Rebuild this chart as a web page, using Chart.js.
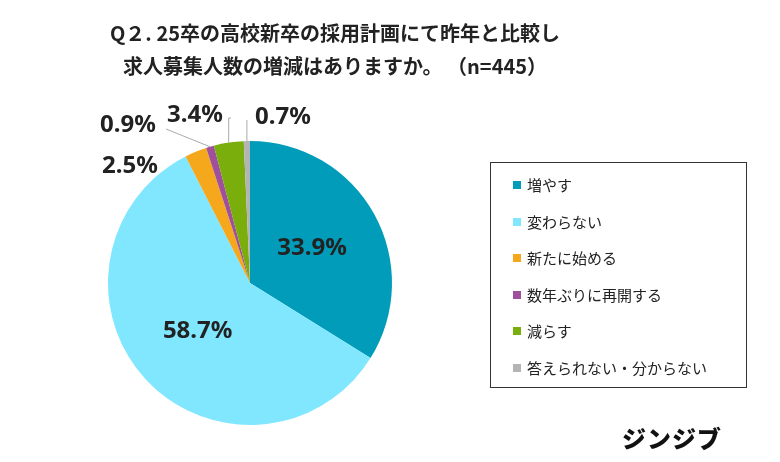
<!DOCTYPE html>
<html><head><meta charset="utf-8">
<script src="https://cdn.jsdelivr.net/npm/chart.js@4"></script>
<style>
body{margin:0;background:#fff;font-family:"Noto Sans CJK JP",sans-serif;}
#wrap{position:relative;width:780px;height:462px;}
#title{position:absolute;left:0;top:16px;width:670px;text-align:center;font-size:20px;font-weight:bold;line-height:33px;color:#222;}
#legend{position:absolute;left:490px;top:162px;width:257px;height:226px;border:1px solid #333;box-sizing:border-box;padding:11px 0 0 22px;font-size:15px;color:#222;}
#legend div{height:36.5px;display:flex;align-items:flex-start;}
#legend span{display:inline-block;width:8px;height:8px;margin:7px 6px 0 0;}
#logo{position:absolute;left:622px;top:420px;font-size:24px;font-weight:900;color:#111;letter-spacing:1px;}
</style></head>
<body><div id="wrap">
<canvas id="c" width="780" height="462"></canvas>
<div id="title">Q２. 25卒の高校新卒の採用計画にて昨年と比較し<br>求人募集人数の増減はありますか。 （n=445）</div>
<div id="legend"></div>
<div id="logo">ジンジブ</div>
</div>
<script>
const categories = ['増やす', '変わらない', '新たに始める', '数年ぶりに再開する', '減らす', '答えられない・分からない'];
const values = [33.9, 58.7, 2.5, 0.9, 3.4, 0.7];
const colors = ['#009cba', '#80e7ff', '#f5a81c', '#a0509a', '#7aae0c', '#b4b4b4'];
// outside label anchor points for the small slices (null = label inside)
const outsideLabels = [null, null, [130, 166], [128, 125], [195, 115], [283, 117]];

const legend = document.getElementById('legend');
categories.forEach((c, i) => {
  legend.innerHTML += '<div><span style="background:' + colors[i] + '"></span>' + c + '</div>';
});

const labelPlugin = {
  id: 'labels',
  afterDatasetsDraw(chart) {
    const ctx = chart.ctx;
    const arcs = chart.getDatasetMeta(0).data;
    ctx.save();
    ctx.font = 'bold 24px "Noto Sans", sans-serif';
    ctx.textAlign = 'center';
    ctx.textBaseline = 'middle';
    ctx.fillStyle = '#222';
    arcs.forEach((arc, i) => {
      const txt = values[i].toFixed(1) + '%';
      const pos = outsideLabels[i];
      if (!pos) {
        const p = arc.tooltipPosition();
        ctx.fillText(txt, p.x, p.y);
      } else {
        const mid = (arc.startAngle + arc.endAngle) / 2;
        const ex = arc.x + Math.cos(mid) * arc.outerRadius;
        const ey = arc.y + Math.sin(mid) * arc.outerRadius;
        if (i >= 3) {
          ctx.strokeStyle = '#aaa';
          ctx.lineWidth = 1;
          ctx.beginPath();
          ctx.moveTo(ex, ey);
          if (i === 3) ctx.lineTo(pos[0] + 38, pos[1] + 4);
          else { ctx.lineTo(ex, pos[1] + 3); ctx.lineTo(pos[0] + (i === 4 ? 36 : -36), pos[1] + 3); }
          ctx.stroke();
        }
        ctx.fillText(txt, pos[0], pos[1]);
      }
    });
    ctx.restore();
  }
};

new Chart(document.getElementById('c'), {
  type: 'pie',
  data: {
    labels: categories,
    datasets: [{ data: values, backgroundColor: colors, borderWidth: 0 }]
  },
  options: {
    responsive: false,
    animation: false,
    layout: { padding: { left: 108, top: 141, right: 388, bottom: 37 } },
    plugins: { legend: { display: false }, tooltip: { enabled: false } }
  },
  plugins: [labelPlugin]
});
</script>
</body></html>
